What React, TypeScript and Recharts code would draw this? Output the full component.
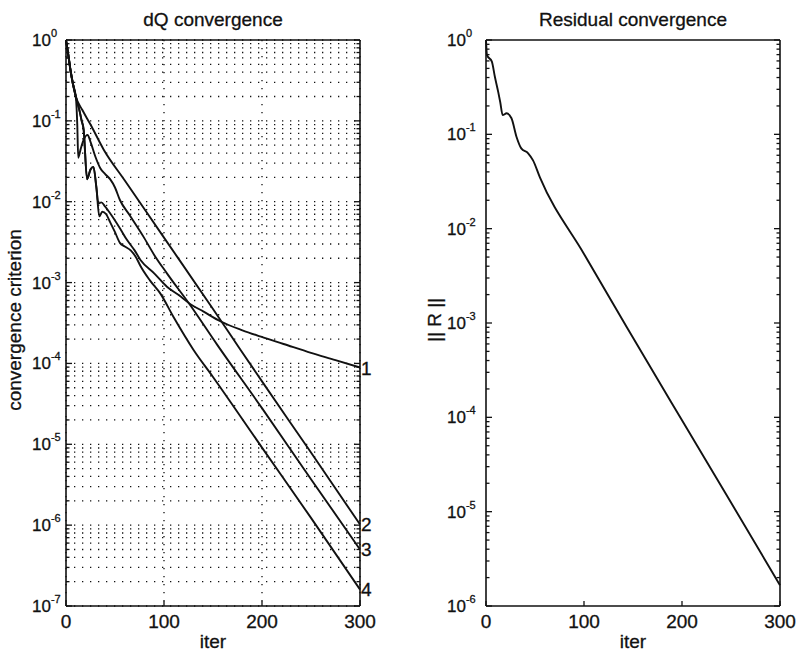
import React from 'react';
import { LineChart, Line, XAxis, YAxis, CartesianGrid, Label } from 'recharts';

// values (iteration, criterion)
const iterTicks = [0, 100, 200, 300];
const dqDecades = [-7, -6, -5, -4, -3, -2, -1, 0];
const resDecades = [-6, -5, -4, -3, -2, -1, 0];

const dq1Iter = [0, 2, 4.5, 7, 10, 14, 16, 18, 21.5, 25, 28, 31, 33, 36, 40, 45, 55, 62, 70, 76, 90, 103, 115, 127, 140, 158, 180, 199, 222, 250, 275, 300];
const dq1Val = [1, 0.7, 0.43, 0.29, 0.2, 0.13, 0.1, 0.078, 0.019, 0.025, 0.027, 0.015, 0.0095, 0.0098, 0.0087, 0.0072, 0.0047, 0.0034, 0.0025, 0.0019, 0.0013, 0.00089, 0.0007, 0.00054, 0.00044, 0.00033, 0.000257, 0.000214, 0.000174, 0.000135, 0.00011, 0.000089];

const dq2Iter = [0, 2, 4.5, 7, 10, 16.7, 25, 38.5, 60, 100, 150, 178, 200, 250, 300];
const dq2Val = [1, 0.7, 0.43, 0.29, 0.2, 0.136, 0.09, 0.044, 0.0183, 0.0036, 0.00047, 0.000148, 0.00006, 0.0000079, 0.00000102];

const dq3Iter = [0, 2, 4.5, 7, 10, 11.5, 12.5, 15, 18, 22, 25, 30, 35, 40, 45, 50, 55, 65, 79, 90, 103, 127, 154, 200, 250, 300];
const dq3Val = [1, 0.7, 0.43, 0.29, 0.2, 0.09, 0.035, 0.045, 0.058, 0.067, 0.055, 0.036, 0.026, 0.022, 0.019, 0.015, 0.0105, 0.0068, 0.0037, 0.0022, 0.0013, 0.00052, 0.000172, 0.000028, 0.0000037, 0.0000005];

const dq4Iter = [0, 2, 4.5, 7, 10, 14, 16, 18, 21.5, 25, 28, 31, 34, 37, 41, 45, 50, 55, 60, 66, 72, 76, 86, 96, 110, 130, 150, 200, 250, 300];
const dq4Val = [1, 0.7, 0.43, 0.29, 0.2, 0.13, 0.1, 0.078, 0.019, 0.025, 0.027, 0.015, 0.0066, 0.0075, 0.007, 0.0056, 0.0042, 0.0031, 0.0028, 0.0025, 0.002, 0.0016, 0.00105, 0.00074, 0.00037, 0.000148, 0.000068, 0.0000091, 0.00000123, 0.00000016];

const resIter = [0, 1, 6, 9, 12.5, 14.5, 17, 21, 26, 31, 36, 43, 48, 55, 100, 144, 200, 250, 300];
const resVal = [1, 0.69, 0.59, 0.41, 0.28, 0.22, 0.16, 0.167, 0.148, 0.095, 0.071, 0.063, 0.053, 0.035, 0.0054, 0.00089, 0.000093, 0.0000125, 0.00000166];

const curveNames = ['1', '2', '3', '4'];

const FONT = '"Liberation Sans", Arial, Helvetica, sans-serif';
const INK = '#111';
const textStyle = { fontFamily: FONT, fill: INK, stroke: INK, strokeWidth: 0.3 };

const toPoints = (iters: number[], vals: number[]) => iters.map((iter, i) => ({ iter, v: vals[i] }));

const dqSeries = [
  toPoints(dq1Iter, dq1Val),
  toPoints(dq2Iter, dq2Val),
  toPoints(dq3Iter, dq3Val),
  toPoints(dq4Iter, dq4Val),
];
const resSeries = toPoints(resIter, resVal);

const logTicks = (decades: number[]) => {
  const out: number[] = [];
  decades.forEach((e, i) => {
    if (i === decades.length - 1) {
      out.push(10 ** e);
      return;
    }
    for (let m = 1; m <= 9; m++) out.push(m * 10 ** e);
  });
  return out;
};

const isDecade = (v: number) => Math.abs(Math.log10(v) - Math.round(Math.log10(v))) < 1e-6;

const leftTick = (labelDx: number) => (props: any) => {
  const { x, y, payload } = props;
  const v = payload.value;
  const major = isDecade(v);
  const e = Math.round(Math.log10(v));
  return (
    <g>
      <line x1={x} x2={x + (major ? 6 : 3.5)} y1={y} y2={y} stroke={INK} strokeWidth={1.3} />
      {major && (
        <text x={x - labelDx} y={y + 6} fontSize={17} style={textStyle}>
          10<tspan dy={-9} fontSize={11}>{String(e)}</tspan>
        </text>
      )}
    </g>
  );
};

const rightTick = (props: any) => {
  const { x, y, payload } = props;
  const major = isDecade(payload.value);
  return <line x1={x} x2={x - (major ? 6 : 3.5)} y1={y} y2={y} stroke={INK} strokeWidth={1.3} />;
};

const topTick = (props: any) => {
  const { x, y } = props;
  return <line x1={x} x2={x} y1={y} y2={y + 5} stroke={INK} strokeWidth={1.3} />;
};

const bottomTick = (props: any) => {
  const { x, y, payload } = props;
  return (
    <g>
      <line x1={x} x2={x} y1={y} y2={y - 5} stroke={INK} strokeWidth={1.3} />
      <text x={x} y={y + 22} textAnchor="middle" fontSize={19} style={textStyle}>
        {payload.value}
      </text>
    </g>
  );
};

const titleContent = (text: string) => (props: any) => {
  const vb = props.viewBox;
  return (
    <text x={vb.x + vb.width / 2} y={vb.y + 26} textAnchor="middle" fontSize={19} style={textStyle}>
      {text}
    </text>
  );
};

const xLabelContent = (props: any) => {
  const vb = props.viewBox;
  return (
    <text x={vb.x + vb.width / 2} y={vb.y + 42} textAnchor="middle" fontSize={19} style={textStyle}>
      iter
    </text>
  );
};

const yLabelContent = (text: string, baseX: number) => (props: any) => {
  const vb = props.viewBox;
  const cy = vb.y + vb.height / 2 - 3;
  return (
    <text
      x={baseX}
      y={cy}
      transform={`rotate(-90 ${baseX} ${cy})`}
      textAnchor="middle"
      fontSize={19}
      style={textStyle}
    >
      {text}
    </text>
  );
};

const endLabel = (name: string, lastIndex: number) => (p: any) =>
  p.index === lastIndex ? (
    <text key={`lab-${name}`} x={p.cx + 1} y={p.cy + 7} fontSize={19} style={textStyle}>
      {name}
    </text>
  ) : (
    <g key={`dot-${name}-${p.index}`} />
  );

const axisLine = { stroke: INK, strokeWidth: 1.6 };

type PanelProps = {
  left: number;
  width: number;
  yWidthLeft: number;
  yWidthRight: number;
  labelDx: number;
  decades: number[];
  title: string;
  yLabel: string;
  yLabelX: number;
  grid: boolean;
  children: React.ReactNode;
};

const Panel = ({ left, width, yWidthLeft, yWidthRight, labelDx, decades, title, yLabel, yLabelX, grid, children }: PanelProps) => {
  const yTicks = logTicks(decades);
  const yDomain = [10 ** decades[0], 1];
  return (
    <div style={{ position: 'absolute', left, top: 0 }}>
      <LineChart width={width} height={656} margin={{ top: 0, right: 0, bottom: 0, left: 0 }}>
        {grid && (
          <CartesianGrid stroke={INK} strokeWidth={1.3} strokeDasharray="1.3 6.7" />
        )}
        <XAxis
          dataKey="iter"
          type="number"
          domain={[0, 300]}
          ticks={iterTicks}
          height={50}
          axisLine={axisLine}
          tickLine={false}
          tickSize={0}
          tickMargin={0}
          tick={bottomTick}
          interval={0}
        >
          <Label content={xLabelContent} />
        </XAxis>
        <XAxis
          xAxisId="t"
          orientation="top"
          type="number"
          domain={[0, 300]}
          ticks={iterTicks}
          height={40}
          allowDataOverflow
          axisLine={axisLine}
          tickLine={false}
          tickSize={0}
          tickMargin={0}
          tick={topTick}
          interval={0}
        >
          <Label content={titleContent(title)} />
        </XAxis>
        <YAxis
          type="number"
          scale="log"
          domain={yDomain}
          ticks={yTicks}
          width={yWidthLeft}
          axisLine={axisLine}
          tickLine={false}
          tickSize={0}
          tickMargin={0}
          tick={leftTick(labelDx)}
          interval={0}
        >
          <Label content={yLabelContent(yLabel, yLabelX)} />
        </YAxis>
        <YAxis
          yAxisId="r"
          orientation="right"
          type="number"
          scale="log"
          domain={yDomain}
          ticks={yTicks}
          width={yWidthRight}
          allowDataOverflow
          axisLine={axisLine}
          tickLine={false}
          tickSize={0}
          tickMargin={0}
          tick={rightTick}
          interval={0}
        />
        {children}
      </LineChart>
    </div>
  );
};

export default function App() {
  return (
    <div style={{ position: 'absolute', left: 0, top: 0, width: 799, height: 656, background: '#fff' }}>
      <Panel
        left={0}
        width={400}
        yWidthLeft={66}
        yWidthRight={40}
        labelDx={34}
        decades={dqDecades}
        title="dQ convergence"
        yLabel="convergence criterion"
        yLabelX={21}
        grid
      >
        {dqSeries.map((pts, i) => (
          <Line
            key={curveNames[i]}
            data={pts}
            dataKey="v"
            type="monotone"
            stroke={INK}
            strokeWidth={1.9}
            dot={endLabel(curveNames[i], pts.length - 1)}
            activeDot={false}
            isAnimationActive={false}
          />
        ))}
      </Panel>
      <Panel
        left={400}
        width={399}
        yWidthLeft={86}
        yWidthRight={19}
        labelDx={39}
        decades={resDecades}
        title="Residual convergence"
        yLabel="|| R ||"
        yLabelX={41}
        grid={false}
      >
        <Line
          data={resSeries}
          dataKey="v"
          type="monotone"
          stroke={INK}
          strokeWidth={1.9}
          dot={false}
          activeDot={false}
          isAnimationActive={false}
        />
      </Panel>
    </div>
  );
}
